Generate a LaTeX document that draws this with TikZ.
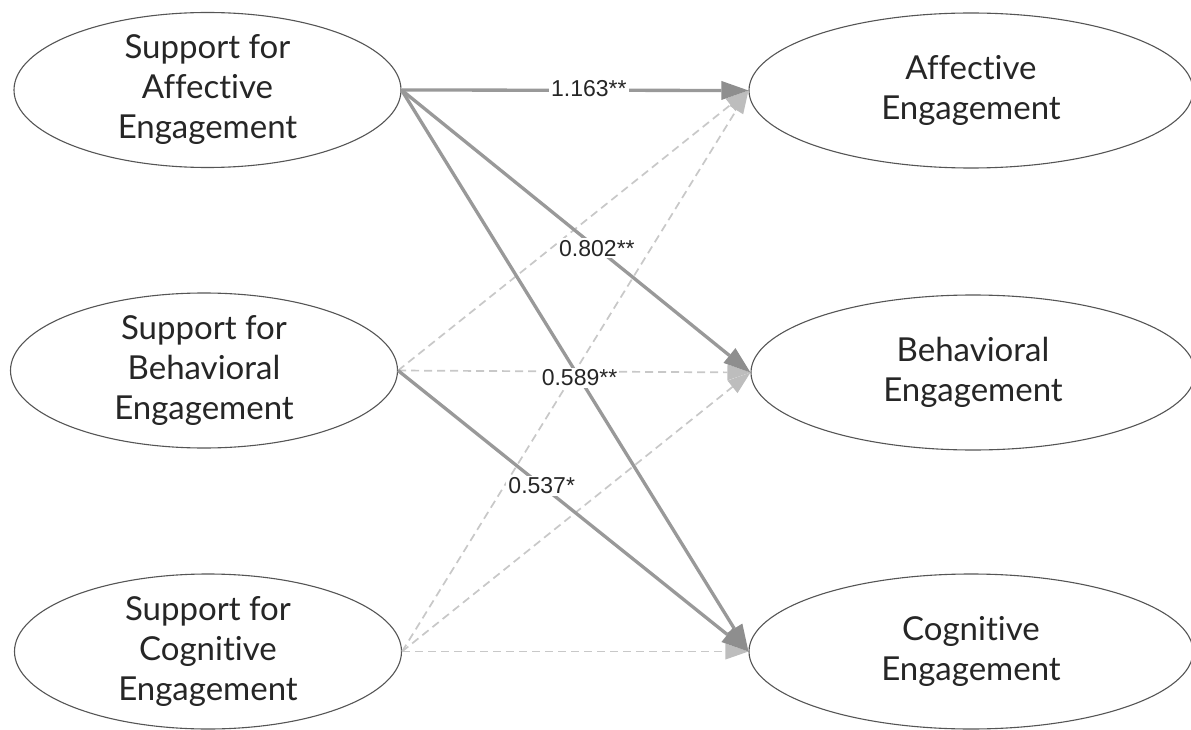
\documentclass[tikz,border=0pt]{standalone}
\usepackage{fontspec}
\setmainfont{Lato}[Ligatures=NoCommon]
\newfontfamily\lblfont{Liberation Sans}
\usetikzlibrary{shapes.geometric,arrows.meta}
\definecolor{solidgray}{HTML}{999999}
\definecolor{headgray}{HTML}{8E8E8E}
\definecolor{dashgray}{HTML}{C8C8C8}
\definecolor{dheadgray}{HTML}{BDBDBD}
\definecolor{ringgray}{HTML}{555555}
\begin{document}
\begin{tikzpicture}[x=1pt,y=-1pt,
  latent/.style={ellipse, draw=ringgray, line width=1.1pt, inner sep=-4pt, align=center,
    minimum height=155pt, font=\fontsize{33}{40}\selectfont, text=black!85},
  leftlat/.style={latent, minimum width=387pt},
  rightlat/.style={latent, minimum width=444pt},
  sig/.style={draw=solidgray, line width=3.3pt,
    -{Triangle[length=27pt,width=19pt,fill=headgray,color=headgray,line width=0pt]}},
  nsig/.style={draw=dashgray, line width=1.7pt, dash pattern=on 8pt off 5pt,
    -{Triangle[length=23pt,width=16pt,fill=dheadgray,color=dheadgray,line width=0pt]}},
  coef/.style={fill=white, inner sep=2pt, font=\lblfont\fontsize{23}{26}\selectfont, text=black!85}]
\useasboundingbox (0,0) rectangle (1191,730);
\fill[white] (0,0) rectangle (1191,730);

\node[leftlat] (sae) at (207.5,90) {Support for\\Affective\\Engagement};
\node[leftlat] (sbe) at (204,370.5) {Support for\\Behavioral\\Engagement};
\node[leftlat] (sce) at (208,651.5) {Support for\\Cognitive\\Engagement};

\node[rightlat] (ae) at (971,90.5) {Affective\\Engagement};
\node[rightlat] (be) at (973,372.5) {Behavioral\\Engagement};
\node[rightlat] (ce) at (971,651.5) {Cognitive\\Engagement};

\draw[nsig] (sbe.east) -- (ae.west);
\draw[nsig] (sbe.east) -- (be.west);
\draw[nsig] (sce.east) -- (ae.west);
\draw[nsig] (sce.east) -- (be.west);
\draw[nsig] (sce.east) -- (ce.west);

\draw[sig] (sae.east) -- node[coef,pos=0.54,yshift=1.5pt] {1.163**} (ae.west);
\draw[sig] (sae.east) -- node[coef,pos=0.56] {0.802**} (be.west);
\draw[sig] (sae.east) -- node[coef,pos=0.513] {0.589**} (ce.west);
\draw[sig] (sbe.east) -- node[coef,pos=0.41] {0.537*} (ce.west);
\end{tikzpicture}
\end{document}
